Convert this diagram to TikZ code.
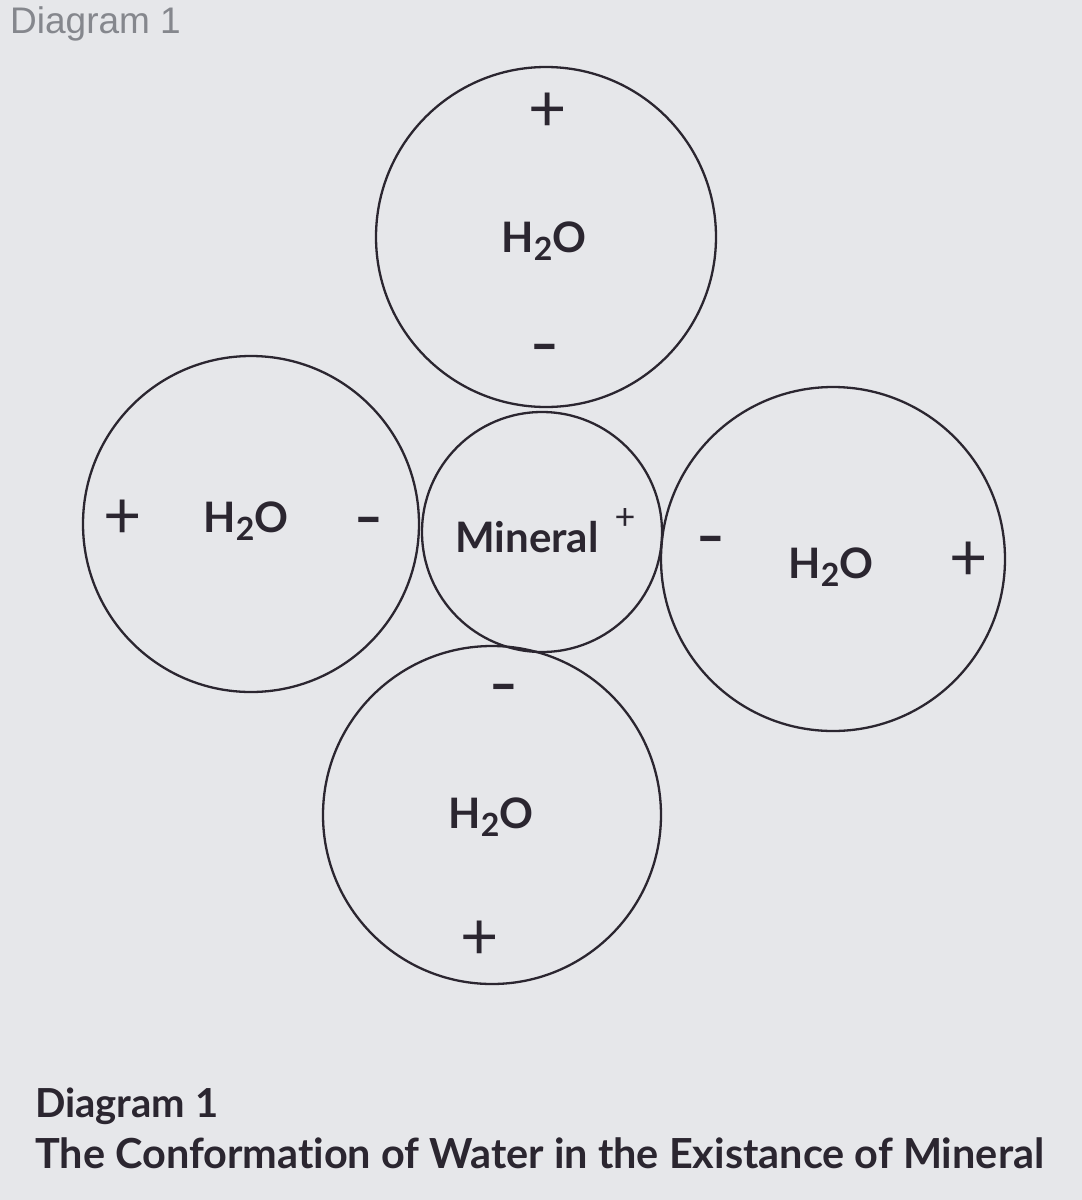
\documentclass[tikz,border=0pt]{standalone}
\usepackage{fontspec}
\setmainfont{Lato}[Ligatures={NoCommon,NoRare,NoDiscretionary}]
\newfontfamily\arialf{Liberation Sans}
\newfontfamily\opensansf{Open Sans}
\definecolor{bg}{HTML}{E6E7EA}
\definecolor{ink}{HTML}{2B2630}
\definecolor{faint}{HTML}{85878D}
\newcommand{\water}{H\raisebox{-0.2em}{\fontsize{32}{32}\selectfont 2}O}
\newcommand{\minuschar}{\scalebox{1.6}[0.9]{-}}
\begin{document}
\begin{tikzpicture}[x=1pt,y=-1pt,
  mol/.style={circle, draw=ink, line width=2.3pt, minimum size=#1, inner sep=0pt},
  lab/.style={text=ink, font=\bfseries\fontsize{42}{48}\selectfont, inner sep=0pt, anchor=base},
  plussign/.style={text=ink, font=\fontsize{66}{66}\selectfont, inner sep=0pt},
  smallplus/.style={text=ink, font=\fontsize{36}{36}\selectfont, inner sep=0pt},
  minussign/.style={text=ink, font=\opensansf\bfseries\fontsize{48}{48}\selectfont, inner sep=0pt},
  captext/.style={text=ink, font=\bfseries\fontsize{46}{50}\selectfont, inner sep=0pt, anchor=base west}
]
\fill[bg] (0,0) rectangle (1082,1200);
\useasboundingbox (0,0) rectangle (1082,1200);

\node[anchor=base west, inner sep=0pt, text=faint, font=\arialf\fontsize{37}{40}\selectfont] (hdr) at (10,33) {Diagram 1};

\node[mol=340pt] (top) at (546,237) {};
\node[mol=336pt] (left) at (251,524) {};
\node[mol=240pt] (min) at (542,532) {};
\node[mol=344pt] (right) at (833,559) {};
\node[mol=338pt] (bot) at (492,815) {};

% top molecule
\node[plussign] (topp) at (548,112) {+};
\node[lab] (toph) at (544,252) {\water};
\node[minussign] (topm) at (545,351) {\minuschar};
% left molecule
\node[plussign] (leftp) at (123,519) {+};
\node[lab] (lefth) at (246,532) {\water};
\node[minussign] (leftm) at (369,524) {\minuschar};
% mineral
\node[lab, font=\bfseries\fontsize{42}{48}\selectfont] (minl) at (527,552) {Mineral};
\node[smallplus] (minp) at (625,519) {+};
% right molecule
\node[minussign] (rightm) at (711,543) {\minuschar};
\node[lab] (righth) at (831,578) {\water};
\node[plussign] (rightp) at (969,561) {+};
% bottom molecule
\node[minussign] (botm) at (504,691) {\minuschar};
\node[lab] (both) at (491,828) {\water};
\node[plussign] (botp) at (480,940) {+};

\node[captext] (cap1) at (35,1117) {\resizebox{183pt}{!}{Diagram 1}};
\node[captext] (cap2) at (35,1168) {\resizebox{1009pt}{!}{The Conformation of Water in the Existance of Mineral}};
\end{tikzpicture}
\end{document}
